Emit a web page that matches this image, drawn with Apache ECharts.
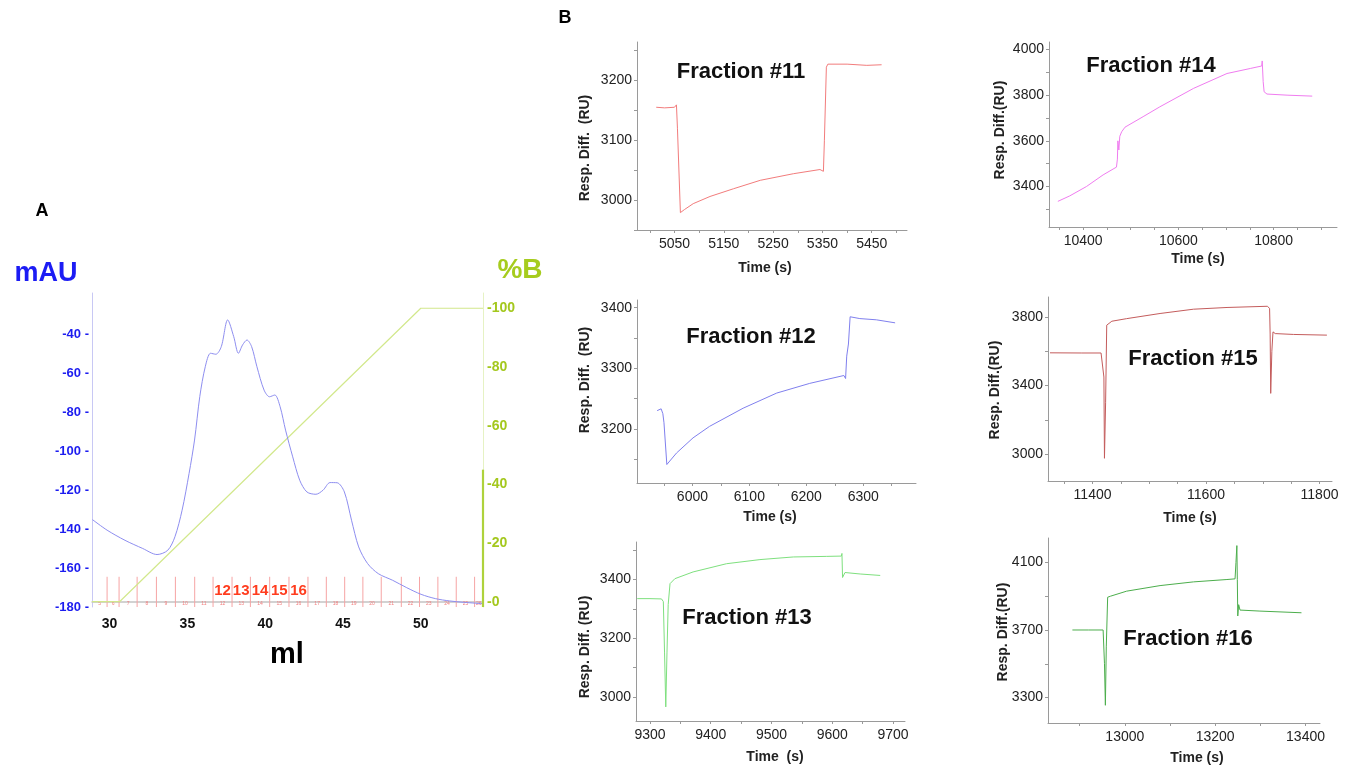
<!DOCTYPE html>
<html><head><meta charset="utf-8">
<script src="https://cdn.jsdelivr.net/npm/echarts@6/dist/echarts.min.js"></script>
<style>html,body{margin:0;padding:0;background:#fff}#c{width:1348px;height:766px}</style>
</head><body><div id="c"></div>
<script>
const FONT = '"Liberation Sans", Arial, Helvetica, sans-serif';

// ---------- Panel A : chromatogram ----------
const chromatogram = [
  [28.9,-135.2],[29.84,-140.6],[30.99,-145.8],[32.13,-150],[33.05,-153.1],[33.74,-150.9],[34.2,-144],
  [34.66,-130.4],[35.11,-111.5],[35.46,-94.4],[35.8,-72],[36.15,-56.8],[36.49,-49.9],[36.83,-50.4],
  [37.18,-46.5],[37.59,-32.8],[37.98,-41.4],[38.28,-49.9],[38.55,-45.6],[38.83,-43.1],[39.13,-46.5],
  [39.47,-56.8],[39.93,-68.8],[40.28,-72.2],[40.62,-71.3],[40.96,-77.3],[41.31,-89.3],[41.77,-103],
  [42.22,-115],[42.68,-121],[43.26,-122.2],[43.72,-120.1],[44.17,-116.2],[44.63,-116.3],[45.09,-121],
  [45.55,-135.5],[46.01,-149.2],[46.58,-157.7],[47.27,-162.9],[48.19,-166.3],[49.1,-170.1],[50.02,-173.5],
  [50.94,-175.7],[51.86,-176.9],[52.77,-177.6],[53.97,-178.3]
];
const gradientB = [[28.87,0],[30.64,0],[50.0,100],[54.0,100]];
const gradientAxisBold = [[54.0,-1.8],[54.0,45]];
// fraction collector edges (ml); first and last are the plot edges
const fractionEdges = [28.87,29.84,30.61,31.77,33.01,34.23,35.47,36.65,37.87,39.05,40.29,41.53,
  42.75,43.93,45.11,46.28,47.46,48.75,49.92,51.1,52.28,53.46,54.0];
const firstFraction = 5;
const labelledFractions = [12,13,14,15,16];
const mlLabels = [30,35,40,45,50];
const mAULabels = [-180,-160,-140,-120,-100,-80,-60,-40];
const pctBLabels = [0,20,40,60,80,100];

// ---------- Panel B : sensorgrams ----------
const frac11 = [[5013,3155],[5030,3154],[5050,3155],[5054,3159],[5056,3120],[5062,2979],[5070,2984],
  [5088,2994],[5122,3006],[5170,3019],[5224,3033],[5291,3044],[5345,3051],[5352,3048],[5354,3100],
  [5358,3222],[5361,3227],[5400,3227],[5440,3225],[5470,3226]];
const frac12 = [[5938,3230],[5945,3233],[5948,3225],[5950,3210],[5955,3141],[5972,3160],[6001,3185],
  [6030,3204],[6089,3234],[6148,3259],[6206,3275],[6266,3288],[6269,3283],[6271,3320],[6274,3340],
  [6277,3385],[6294,3382],[6323,3380],[6356,3375]];
const frac13 = [[9279,3335],[9300,3335],[9319,3334],[9322,3325],[9324,3150],[9326,2966],[9328,3150],
  [9330,3315],[9333,3386],[9341,3403],[9371,3426],[9426,3454],[9481,3468],[9536,3477],[9591,3479],
  [9615,3480],[9616,3489],[9617,3407],[9621,3424],[9646,3419],[9679,3414]];
const frac14 = [[10347,3335],[10372,3359],[10407,3400],[10442,3451],[10470,3485],[10472,3520],
  [10473,3600],[10475,3560],[10477,3620],[10481,3640],[10488,3660],[10526,3706],[10561,3749],
  [10632,3830],[10702,3895],[10751,3917],[10775,3928],[10776,3950],[10778,3860],[10780,3815],
  [10786,3805],[10830,3800],[10881,3796]];
const frac15 = [[11325,3591],[11380,3590],[11415,3590],[11418,3585],[11420,3450],[11421,2977],
  [11423,3300],[11425,3752],[11434,3775],[11460,3790],[11519,3820],[11578,3845],[11637,3855],
  [11708,3862],[11712,3850],[11713,3700],[11714,3355],[11716,3600],[11718,3713],[11722,3703],
  [11754,3698],[11813,3694]];
const frac16 = [[12884,3700],[12920,3700],[12952,3700],[12955,3500],[12957,3254],[12959,3600],
  [12962,3894],[12968,3900],[13004,3930],[13078,3963],[13152,3985],[13226,3999],[13244,4003],
  [13246,4100],[13248,4200],[13249,4000],[13250,3783],[13252,3850],[13255,3818],[13299,3812],
  [13391,3802]];

const x11Labels=[5050,5150,5250,5350,5450];
const x11Ticks=[5000,5050,5100,5150,5200,5250,5300,5350,5400,5450,5500];
const y11Labels=[3000,3100,3200];
const y11Ticks=[2950,3000,3050,3100,3150,3200,3250];
const x12Labels=[6000,6100,6200,6300];
const x12Ticks=[5950,6000,6050,6100,6150,6200,6250,6300,6350];
const y12Labels=[3200,3300,3400];
const y12Ticks=[3150,3200,3250,3300,3350,3400];
const x13Labels=[9300,9400,9500,9600,9700];
const x13Ticks=[9300,9350,9400,9450,9500,9550,9600,9650,9700];
const y13Labels=[3000,3200,3400];
const y13Ticks=[3000,3100,3200,3300,3400,3500];
const x14Labels=[10400,10600,10800];
const x14Ticks=[10350,10400,10450,10500,10550,10600,10650,10700,10750,10800,10850,10900];
const y14Labels=[3400,3600,3800,4000];
const y14Ticks=[3300,3400,3500,3600,3700,3800,3900,4000];
const x15Labels=[11400,11600,11800];
const x15Ticks=[11350,11400,11450,11500,11550,11600,11650,11700,11750,11800];
const y15Labels=[3000,3400,3800];
const y15Ticks=[3000,3200,3400,3600,3800];
const x16Labels=[13000,13200,13400];
const x16Ticks=[12900,13000,13100,13200,13300,13400];
const y16Labels=[3300,3700,4100];
const y16Ticks=[3300,3500,3700,3900,4100];

// ---------- build option ----------
const fracLines = fractionEdges.slice(1, -1).map(x => [x, -180]);
const fracMids = [];
for (let i = 0; i < fractionEdges.length - 1; i++) {
  fracMids.push([(fractionEdges[i] + fractionEdges[i+1]) / 2, -178.2, firstFraction + i]);
}
const bigLabels = fracMids.filter(d => labelledFractions.indexOf(d[2]) >= 0).map(d => [d[0], -171.6, d[2]]);

const grids = [
  {left:92, top:293, width:391, height:314},
  {left:637, top:42, width:270, height:188},
  {left:637, top:300, width:279, height:183},
  {left:636, top:542, width:269, height:179},
  {left:1049, top:42, width:288, height:185},
  {left:1048, top:297, width:284, height:184},
  {left:1048, top:538, width:272, height:185}
];

const xAxes = [{
  type:'value', gridIndex:0, min:28.87, max:54.0,
  axisLine:{show:true, lineStyle:{color:'#c4c4c4', width:1.5}},
  axisTick:{show:false}, splitLine:{show:false},
  axisLabel:{customValues:mlLabels, margin:10, color:'#111', fontSize:14, fontWeight:'bold', fontFamily:FONT,
    formatter:v=>String(v)}
}];
const yAxes = [{
  type:'value', gridIndex:0, min:-180, max:-19, position:'left',
  axisLine:{show:true, lineStyle:{color:'#c8c8f4', width:1}},
  axisTick:{show:false}, splitLine:{show:false},
  axisLabel:{customValues:mAULabels, margin:3, color:'#1c1cf0', fontSize:13, fontWeight:'bold', fontFamily:FONT,
    formatter:v=>v+' -'}
},{
  type:'value', gridIndex:0, min:-1.8, max:105.2, position:'right',
  axisLine:{show:true, lineStyle:{color:'#e6f2c4', width:1}},
  axisTick:{show:false}, splitLine:{show:false},
  axisLabel:{customValues:pctBLabels, margin:4, color:'#a4c81e', fontSize:14, fontWeight:'bold', fontFamily:FONT,
    formatter:v=>'-'+v}
}];

const panels = [
  {data:frac11, color:'#f27c7c', x:[4974,5521.5], y:[2950,3264], xl:x11Labels, xt:x11Ticks, yl:y11Labels, yt:y11Ticks},
  {data:frac12, color:'#8080ee', x:[5902.6,6392.7], y:[3110.5,3412.7], xl:x12Labels, xt:x12Ticks, yl:y12Labels, yt:y12Ticks},
  {data:frac13, color:'#7ee07e', x:[9277,9719.8], y:[2918,3528], xl:x13Labels, xt:x13Ticks, yl:y13Labels, yt:y13Ticks},
  {data:frac14, color:'#f07cf0', x:[10328.4,10933], y:[3222.7,4033], xl:x14Labels, xt:x14Ticks, yl:y14Labels, yt:y14Ticks},
  {data:frac15, color:'#c45c5c', x:[11321.5,11822], y:[2844.8,3916], xl:x15Labels, xt:x15Ticks, yl:y15Labels, yt:y15Ticks},
  {data:frac16, color:'#4cae4c', x:[12830,13432], y:[3149,4245], xl:x16Labels, xt:x16Ticks, yl:y16Labels, yt:y16Ticks}
];

const series = [
  {type:'line', xAxisIndex:0, yAxisIndex:0, data:chromatogram, smooth:0.3, showSymbol:false,
   lineStyle:{color:'#8e8ef0', width:1}, silent:true, z:3},
  {type:'line', xAxisIndex:0, yAxisIndex:1, data:gradientB, showSymbol:false,
   lineStyle:{color:'#d2e88c', width:1.2}, silent:true, z:2},
  {type:'line', xAxisIndex:0, yAxisIndex:1, data:gradientAxisBold, showSymbol:false, clip:false,
   lineStyle:{color:'#aed23c', width:2.2}, silent:true, z:4},
  {type:'custom', xAxisIndex:0, yAxisIndex:0, data:fracLines, silent:true, z:2, clip:false,
   renderItem:(params, api)=>{
     const x = api.value(0);
     const p0 = api.coord([x, -180]);
     const p1 = api.coord([x, -164.5]);
     return {type:'line', shape:{x1:p0[0], y1:p0[1], x2:p1[0], y2:p1[1]},
       style:{stroke:'#f6a4a4', lineWidth:1}};
   }},
  {type:'custom', xAxisIndex:0, yAxisIndex:0, data:fracMids, silent:true, z:2, clip:false,
   renderItem:(params, api)=>{
     const p = api.coord([api.value(0), api.value(1)]);
     return {type:'text', x:p[0], y:p[1], style:{text:String(api.value(2)), fill:'#f28080',
       fontSize:5, fontFamily:FONT, align:'center', verticalAlign:'middle'}};
   }},
  {type:'custom', xAxisIndex:0, yAxisIndex:0, data:bigLabels, silent:true, z:5, clip:false,
   renderItem:(params, api)=>{
     const p = api.coord([api.value(0), api.value(1)]);
     return {type:'text', x:p[0], y:p[1], style:{text:String(api.value(2)), fill:'#ff3c1e',
       fontSize:15, fontWeight:'bold', fontFamily:FONT, align:'center', verticalAlign:'middle'}};
   }}
];

panels.forEach((p, i) => {
  const gi = i + 1;
  xAxes.push({
    type:'value', gridIndex:gi, min:p.x[0], max:p.x[1],
    axisLine:{show:true, onZero:false, lineStyle:{color:'#9a9a9a', width:1}},
    axisTick:{show:true, customValues:p.xt, length:3, lineStyle:{color:'#9a9a9a'}},
    splitLine:{show:false},
    axisLabel:{customValues:p.xl, margin:7, color:'#222', fontSize:14, fontFamily:FONT, formatter:v=>String(v)}
  });
  yAxes.push({
    type:'value', gridIndex:gi, min:p.y[0], max:p.y[1],
    axisLine:{show:true, onZero:false, lineStyle:{color:'#9a9a9a', width:1}},
    axisTick:{show:true, customValues:p.yt, length:3, lineStyle:{color:'#9a9a9a'}},
    splitLine:{show:false},
    axisLabel:{customValues:p.yl, margin:5, color:'#222', fontSize:14, fontFamily:FONT, formatter:v=>String(v)}
  });
  series.push({type:'line', xAxisIndex:gi, yAxisIndex:gi+1, data:p.data, showSymbol:false,
    lineStyle:{color:p.color, width:1}, silent:true});
});

function txt(text, x, y, size, color, opts) {
  opts = opts || {};
  return {type:'text', x:x, y:y, rotation:opts.rot || 0, silent:true,
    style:{text:text, fill:color, fontSize:size, fontWeight:opts.weight || 'bold', fontFamily:FONT,
      align:'center', verticalAlign:'middle', textAlign:'center', textVerticalAlign:'middle'}};
}
const R = Math.PI / 2;
const graphics = [
  txt('A', 42, 211, 18, '#000'),
  txt('B', 565, 18, 18, '#000'),
  txt('mAU', 46, 274, 27, '#1c1cf4'),
  txt('%B', 520, 270, 28, '#a6cc1e'),
  txt('ml', 287, 655, 29, '#000'),
  txt('Fraction #11', 741, 72, 22, '#111'),
  txt('Fraction #12', 751, 337, 22, '#111'),
  txt('Fraction #13', 747, 618, 22, '#111'),
  txt('Fraction #14', 1151, 66, 22, '#111'),
  txt('Fraction #15', 1193, 359, 22, '#111'),
  txt('Fraction #16', 1188, 639, 22, '#111'),
  txt('Resp. Diff.  (RU)', 585, 148, 14, '#222', {rot:R}),
  txt('Resp. Diff.  (RU)', 585, 380, 14, '#222', {rot:R}),
  txt('Resp. Diff. (RU)', 585, 647, 14, '#222', {rot:R}),
  txt('Resp. Diff.(RU)', 1000, 130, 14, '#222', {rot:R}),
  txt('Resp. Diff.(RU)', 995, 390, 14, '#222', {rot:R}),
  txt('Resp. Diff.(RU)', 1003, 632, 14, '#222', {rot:R}),
  txt('Time (s)', 765, 268, 14, '#222'),
  txt('Time (s)', 770, 517, 14, '#222'),
  txt('Time  (s)', 775, 757, 14, '#222'),
  txt('Time (s)', 1198, 259, 14, '#222'),
  txt('Time (s)', 1190, 518, 14, '#222'),
  txt('Time (s)', 1197, 758, 14, '#222')
];

const chart = echarts.init(document.getElementById('c'), null, {renderer:'canvas'});
chart.setOption({
  animation:false,
  backgroundColor:'#fff',
  grid:grids,
  xAxis:xAxes,
  yAxis:yAxes,
  series:series,
  graphic:graphics
});
</script></body></html>
